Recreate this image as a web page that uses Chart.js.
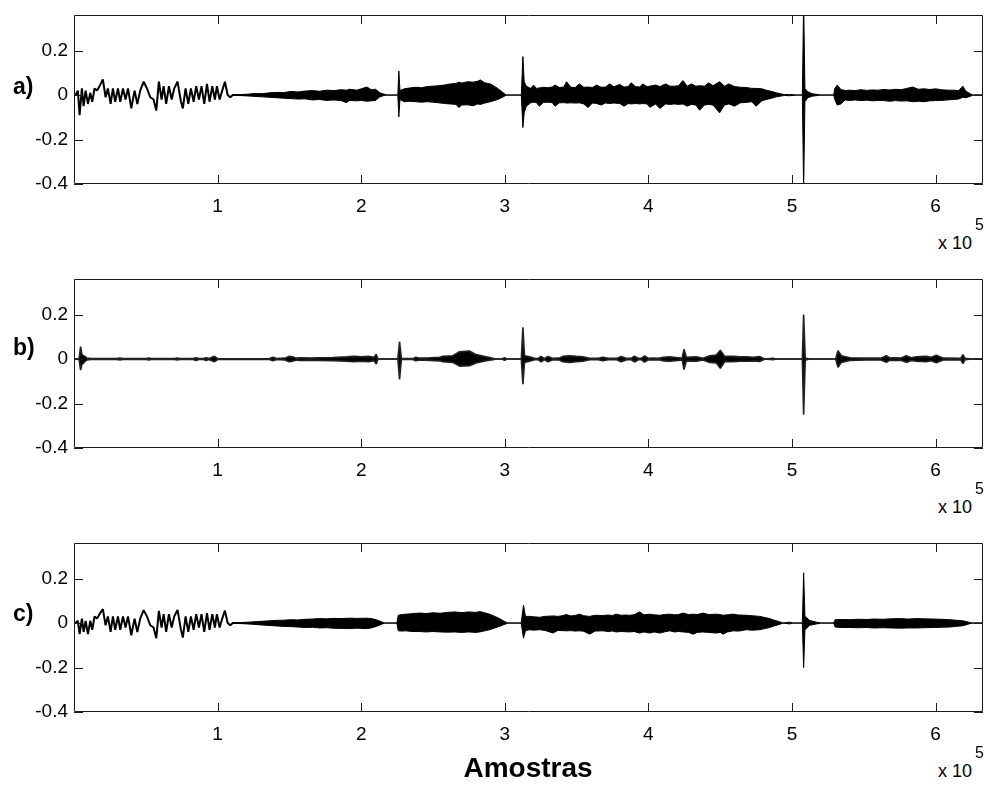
<!DOCTYPE html>
<html>
<head>
<meta charset="utf-8">
<script src="https://cdn.jsdelivr.net/npm/chart.js@4.4.1/dist/chart.umd.min.js"></script>
<style>
  body { margin: 0; background: #fff; width: 985px; height: 785px; position: relative; overflow: hidden;
         font-family: "Liberation Sans", Arial, Helvetica, sans-serif; color: #000; }
  canvas { position: absolute; left: 0; }
  .lbl { position: absolute; left: 13px; font-weight: bold; font-size: 23px; line-height: 1; }
  .exp { position: absolute; left: 938px; font-size: 18px; line-height: 1; }
  .sup { position: absolute; left: 975px; font-size: 16px; line-height: 1; }
  .xtitle { position: absolute; left: 428px; width: 200px; text-align: center; top: 754px;
            font-weight: bold; font-size: 28px; line-height: 1; }
</style>
</head>
<body>
<canvas id="pa" width="985" height="230" style="top:0px"></canvas>
<canvas id="pb" width="985" height="230" style="top:264px"></canvas>
<canvas id="pc" width="985" height="230" style="top:528px"></canvas>

<div class="lbl" style="top:75px">a)</div>
<div class="lbl" style="top:336px">b)</div>
<div class="lbl" style="top:602px">c)</div>

<div class="exp" style="top:234px">x 10</div><div class="sup" style="top:217px">5</div>
<div class="exp" style="top:498px">x 10</div><div class="sup" style="top:481px">5</div>
<div class="exp" style="top:762px">x 10</div><div class="sup" style="top:745px">5</div>

<div class="xtitle">Amostras</div>

<script>
// x in thousands of samples (axis shows x 10^5)
const xTicks = [100, 200, 300, 400, 500, 600];
const xTickLabels = ['1', '2', '3', '4', '5', '6'];
const yTicks = [-0.4, -0.2, 0, 0.2];
const yTickLabels = ['-0.4', '-0.2', '0', '0.2'];

// --- low-frequency start of a) and c) ---
const wigX = [0, 1.1, 2.7, 3.9, 5.5, 6.7, 8.1, 9.7, 11.3, 12.7,
  14.3, 16.0, 17.8, 20.1, 22.0, 23.6, 25.5, 27.1, 28.7, 30.6,
  32.2, 34.1, 35.9, 37.6, 39.9, 42.2, 44.1, 46.1, 48.5, 50.8,
  53.1, 55.4, 57.3, 59.1, 61.0, 62.4, 64.2, 66.1, 68.0, 69.8,
  72.1, 74.5, 75.8, 77.7, 79.6, 81.4, 83.3, 85.1, 87.0, 88.8,
  90.7, 92.6, 94.4, 96.3, 98.1, 99.5, 101.4, 103.2, 105.1, 107.0,
  108.8, 110.6, 121];
const aWigY = [0, 0, 0.02, -0.09, 0.03, -0.05, 0.02, -0.04, 0.01, -0.03,
  0.03, 0.02, 0.04, 0.07, -0.01, 0.03, -0.04, 0.03, -0.03, 0.03,
  -0.03, 0.03, -0.02, 0.03, -0.06, 0.02, -0.04, 0.02, 0.06, 0.03,
  -0.01, -0.02, -0.07, 0.06, -0.02, 0.04, -0.04, 0.04, -0.02, 0.03,
  0.06, -0.03, -0.06, 0.03, -0.04, 0.03, -0.03, 0.04, -0.02, 0.04,
  -0.04, 0.05, -0.03, 0.04, -0.02, 0.04, -0.02, 0.02, 0.06, 0,
  -0.01, 0, 0];
const cWigY = [0, 0, 0.01, -0.05, 0.02, -0.04, 0.01, -0.05, 0.01, -0.03,
  0.03, 0.02, 0.04, 0.063, -0.01, 0.03, -0.04, 0.03, -0.03, 0.03,
  -0.03, 0.03, -0.02, 0.03, -0.055, 0.02, -0.04, 0.02, 0.058, 0.03,
  -0.01, -0.02, -0.068, 0.055, -0.02, 0.04, -0.04, 0.04, -0.02, 0.03,
  0.059, -0.03, -0.065, 0.03, -0.04, 0.03, -0.03, 0.04, -0.02, 0.04,
  -0.04, 0.045, -0.03, 0.04, -0.02, 0.04, -0.02, 0.02, 0.056, 0,
  -0.01, 0, 0];

// --- envelopes (upper / lower) of the dense parts ---
const aEnvX = [
  110.6, 121, 126, 131, 136, 141, 146, 151, 156, 161,
  166, 171, 176, 181, 186, 189.6, 192, 197, 200, 204,
  207, 210, 213, 216, 218,
  225.5, 226.2, 227, 230, 234, 238, 242, 246, 250, 254,
  258, 262, 266, 268, 270, 274, 278, 281, 283, 286,
  290, 295, 299, 301,
  311.5, 312.6, 313.5, 315, 318, 320, 322, 324, 327, 330,
  333, 335, 338, 341, 343, 346, 349, 352, 355, 358,
  361, 364, 367, 370, 373, 376, 380, 383, 386, 388,
  391, 394, 396, 399, 401, 405, 408, 412, 415, 418,
  421, 424, 427, 430, 433, 435.7, 439, 442, 445, 449.6,
  453, 456, 460, 464, 468, 472, 475, 479, 482, 486,
  489, 492.6, 495, 498.4, 503,
  507.2, 508.1, 509, 511, 514, 518, 520, 529, 529.8, 531.5,
  534, 537, 540, 544, 548, 552, 556, 560, 564, 568,
  572, 576, 580, 584, 588, 592, 596, 600, 604, 608,
  612, 616, 619, 621, 624, 626, 633];
const aEnvUp = [
  0, 0.004, 0.007, 0.006, 0.01, 0.012, 0.011, 0.016, 0.014, 0.018,
  0.02, 0.017, 0.022, 0.02, 0.024, 0.022, 0.026, 0.022, 0.028, 0.036,
  0.024, 0.026, 0.01, 0.004, 0,
  0, 0.108, 0.02, 0.028, 0.032, 0.035, 0.033, 0.038, 0.04, 0.042,
  0.045, 0.05, 0.052, 0.058, 0.054, 0.06, 0.058, 0.062, 0.068, 0.055,
  0.05, 0.03, 0.01, 0,
  0, 0.173, 0.06, 0.04, 0.03, 0.045, 0.03, 0.032, 0.035, 0.033,
  0.036, 0.045, 0.034, 0.036, 0.06, 0.035, 0.034, 0.05, 0.035, 0.036,
  0.034, 0.045, 0.035, 0.036, 0.05, 0.037, 0.048, 0.036, 0.038, 0.055,
  0.038, 0.036, 0.05, 0.038, 0.04, 0.045, 0.038, 0.05, 0.04, 0.04,
  0.042, 0.065, 0.04, 0.05, 0.04, 0.042, 0.04, 0.055, 0.042, 0.06,
  0.04, 0.05, 0.038, 0.035, 0.034, 0.03, 0.03, 0.028, 0.022, 0.016,
  0.01, 0.005, 0.002, 0.003, 0,
  0, 0.42, 0.03, 0.015, 0.006, 0.002, 0, 0, 0.03, 0.045,
  0.025, 0.02, 0.022, 0.02, 0.024, 0.021, 0.023, 0.022, 0.025, 0.023,
  0.026, 0.024, 0.03, 0.036, 0.026, 0.028, 0.025, 0.028, 0.024, 0.022,
  0.022, 0.02, 0.04, 0.018, 0.006, 0, 0];
const aEnvLo = [
  0, -0.004, -0.006, -0.008, -0.01, -0.012, -0.014, -0.016, -0.018, -0.017,
  -0.022, -0.02, -0.024, -0.022, -0.025, -0.034, -0.024, -0.026, -0.024, -0.028,
  -0.026, -0.024, -0.008, -0.002, 0,
  0, -0.098, -0.02, -0.03, -0.028, -0.03, -0.032, -0.03, -0.032, -0.035,
  -0.038, -0.04, -0.042, -0.056, -0.045, -0.044, -0.048, -0.04, -0.042, -0.036,
  -0.03, -0.02, -0.008, 0,
  0, -0.146, -0.08, -0.05, -0.035, -0.032, -0.034, -0.05, -0.033, -0.032,
  -0.034, -0.05, -0.035, -0.034, -0.036, -0.035, -0.036, -0.035, -0.04, -0.056,
  -0.036, -0.038, -0.045, -0.036, -0.038, -0.036, -0.038, -0.05, -0.038, -0.04,
  -0.038, -0.04, -0.038, -0.04, -0.055, -0.04, -0.06, -0.04, -0.042, -0.04,
  -0.042, -0.04, -0.05, -0.042, -0.045, -0.068, -0.045, -0.042, -0.045, -0.08,
  -0.045, -0.04, -0.05, -0.035, -0.033, -0.03, -0.05, -0.026, -0.02, -0.014,
  -0.008, -0.004, -0.002, -0.003, 0,
  0, -0.42, -0.03, -0.012, -0.005, -0.002, 0, 0, -0.02, -0.045,
  -0.04, -0.022, -0.024, -0.022, -0.025, -0.023, -0.026, -0.024, -0.025, -0.028,
  -0.025, -0.027, -0.026, -0.03, -0.028, -0.03, -0.026, -0.025, -0.024, -0.022,
  -0.02, -0.018, -0.01, -0.012, -0.006, 0, 0];

const bEnvX = [0, 3.5, 4.6, 5.5, 7.5, 9, 12, 30, 32, 34,
  50, 52, 54, 70, 72, 74, 83, 85, 87, 90,
  92, 94, 96, 97.9, 100, 120, 136, 138.5, 141, 147,
  149.7, 152, 155, 157, 165, 171, 180, 190, 195, 200,
  205, 209, 210.5, 211.6, 225.5, 226.7, 228, 236, 238, 240.6,
  248, 254.6, 256.9, 263.8, 268.5, 275.4, 280, 287, 291.7, 294,
  298, 299.8, 301.5, 311.5, 312.6, 313.7, 317.2, 320.7, 323, 325.3,
  327.5, 330, 333.5, 338, 340.4, 345.1, 349.7, 354.4, 359, 365,
  368.3, 372, 378, 381, 385, 388, 390.3, 393, 395, 397.3,
  400, 403.2, 407, 410.2, 414.8, 420.6, 423.5, 424.8, 426.4, 433.4,
  438, 442.7, 447.3, 450.1, 453.1, 458.9, 463.6, 468.2, 472.9, 477.5,
  481, 486.8, 489, 507.2, 508.1, 509.2, 512, 530.4, 532, 534.4,
  540.2, 551.8, 562, 565.7, 568, 570.3, 576, 579.6, 583, 586.6,
  593.5, 597, 600.5, 605.2, 617.5, 619, 620.5, 624.9, 633];
const bEnvUp = [0, 0, 0.056, 0.02, 0.012, 0.004, 0.002, 0.002, 0.004, 0.002,
  0.002, 0.004, 0.002, 0.002, 0.004, 0.002, 0.002, 0.006, 0.002, 0.002,
  0.006, 0.002, 0.008, 0.012, 0.002, 0.001, 0.002, 0.008, 0.002, 0.004,
  0.012, 0.01, 0.004, 0.006, 0.005, 0.006, 0.007, 0.01, 0.012, 0.01,
  0.012, 0.008, 0.022, 0, 0, 0.078, 0.002, 0.002, 0.008, 0.004,
  0.006, 0.008, 0.012, 0.015, 0.033, 0.036, 0.02, 0.01, 0.003, 0,
  0, 0.006, 0, 0, 0.143, 0.015, 0.01, 0.003, 0.002, 0.012,
  0.002, 0.012, 0.003, 0.004, 0.012, 0.015, 0.012, 0.01, 0.003, 0.003,
  0.008, 0.003, 0.003, 0.012, 0.003, 0.003, 0.013, 0.003, 0.003, 0.014,
  0.003, 0.004, 0.003, 0.008, 0.01, 0.006, 0.004, 0.044, 0.008, 0.01,
  0.004, 0.015, 0.018, 0.04, 0.012, 0.012, 0.01, 0.01, 0.008, 0.011,
  0, 0.003, 0, 0, 0.2, 0.005, 0, 0, 0.037, 0.015,
  0.006, 0.004, 0.004, 0.015, 0.005, 0.006, 0.005, 0.015, 0.006, 0.01,
  0.012, 0.008, 0.017, 0.004, 0.003, 0.02, 0.003, 0, 0];
const bEnvLo = [0, 0, -0.05, -0.025, -0.012, -0.004, -0.002, -0.002, -0.004, -0.002,
  -0.002, -0.004, -0.002, -0.002, -0.004, -0.002, -0.002, -0.006, -0.002, -0.002,
  -0.006, -0.002, -0.008, -0.012, -0.002, -0.001, -0.002, -0.008, -0.002, -0.004,
  -0.012, -0.01, -0.004, -0.006, -0.005, -0.006, -0.007, -0.01, -0.012, -0.01,
  -0.012, -0.008, -0.022, 0, 0, -0.092, -0.002, -0.002, -0.008, -0.004,
  -0.006, -0.008, -0.012, -0.015, -0.032, -0.03, -0.018, -0.008, -0.003, 0,
  0, -0.006, 0, 0, -0.113, -0.015, -0.01, -0.003, -0.002, -0.012,
  -0.002, -0.012, -0.003, -0.004, -0.012, -0.015, -0.012, -0.01, -0.003, -0.003,
  -0.008, -0.003, -0.003, -0.012, -0.003, -0.003, -0.013, -0.003, -0.003, -0.014,
  -0.003, -0.004, -0.003, -0.008, -0.01, -0.006, -0.004, -0.047, -0.008, -0.01,
  -0.004, -0.015, -0.018, -0.042, -0.012, -0.012, -0.01, -0.01, -0.008, -0.011,
  0, -0.003, 0, 0, -0.25, -0.005, 0, 0, -0.037, -0.015,
  -0.006, -0.004, -0.004, -0.015, -0.005, -0.006, -0.005, -0.015, -0.006, -0.01,
  -0.012, -0.008, -0.017, -0.004, -0.003, -0.02, -0.003, 0, 0];

const cEnvX = [
  110.6, 121, 126, 131, 136, 141, 146, 151, 156, 161,
  166, 171, 176, 180.3, 186, 191.9, 197, 203.5, 207, 210.5,
  214, 216.3,
  224.8, 225.8, 228, 231.3, 235, 240.6, 245, 250, 255, 260,
  265, 270, 275, 280, 282.4, 286, 289.4, 293, 296.3, 299,
  301, 302.5,
  311.4, 313, 314.4, 317.2, 320, 324.2, 328, 333.5, 337, 340,
  342.8, 346, 349, 352, 355, 359, 363, 368.3, 372, 375,
  377.6, 381, 384, 386.9, 390, 393.8, 397, 400.8, 404, 407.9,
  411, 414.8, 418, 421, 424.1, 428, 431.1, 434, 438, 442,
  447.3, 450, 452, 455, 458.9, 463, 468.2, 472, 477.5, 481,
  484.5, 488, 491.4, 493.7, 498.4, 500.5,
  507.2, 508.1, 509, 512.3, 517, 520.4, 529, 530, 535, 540.2,
  546, 551.8, 557, 563.4, 569, 575, 581, 586.6, 592, 598.2,
  604, 609.8, 614, 619.1, 623.7, 625.6, 633];
const cEnvUp = [
  0, 0.004, 0.006, 0.008, 0.01, 0.012, 0.013, 0.015, 0.014, 0.017,
  0.018, 0.02, 0.019, 0.021, 0.02, 0.022, 0.021, 0.022, 0.02, 0.015,
  0.006, 0,
  0, 0.035, 0.038, 0.04, 0.042, 0.045, 0.043, 0.046, 0.044, 0.048,
  0.05, 0.047, 0.05, 0.048, 0.052, 0.046, 0.04, 0.03, 0.02, 0.01,
  0.003, 0,
  0, 0.08, 0.03, 0.03, 0.028, 0.026, 0.03, 0.032, 0.03, 0.033,
  0.038, 0.032, 0.034, 0.04, 0.033, 0.03, 0.035, 0.034, 0.036, 0.034,
  0.04, 0.035, 0.036, 0.035, 0.037, 0.05, 0.037, 0.04, 0.037, 0.035,
  0.038, 0.04, 0.037, 0.038, 0.045, 0.038, 0.04, 0.038, 0.045, 0.038,
  0.04, 0.038, 0.035, 0.037, 0.04, 0.036, 0.035, 0.033, 0.03, 0.025,
  0.02, 0.012, 0.006, 0, 0.004, 0,
  0, 0.226, 0.03, 0.012, 0.004, 0, 0, 0.015, 0.016, 0.015,
  0.017, 0.016, 0.018, 0.017, 0.019, 0.02, 0.018, 0.02, 0.019, 0.018,
  0.017, 0.015, 0.013, 0.01, 0.003, 0, 0];
const cEnvLo = [
  0, -0.004, -0.006, -0.009, -0.011, -0.013, -0.015, -0.016, -0.018, -0.02,
  -0.019, -0.022, -0.021, -0.023, -0.024, -0.025, -0.023, -0.025, -0.022, -0.015,
  -0.006, 0,
  0, -0.035, -0.036, -0.035, -0.038, -0.038, -0.04, -0.038, -0.04, -0.041,
  -0.04, -0.042, -0.04, -0.042, -0.04, -0.035, -0.03, -0.022, -0.015, -0.008,
  -0.003, 0,
  0, -0.068, -0.035, -0.03, -0.032, -0.03, -0.033, -0.045, -0.033, -0.034,
  -0.035, -0.034, -0.036, -0.035, -0.037, -0.05, -0.036, -0.035, -0.038, -0.036,
  -0.04, -0.038, -0.039, -0.04, -0.038, -0.045, -0.04, -0.045, -0.04, -0.045,
  -0.04, -0.035, -0.04, -0.038, -0.04, -0.042, -0.05, -0.042, -0.04, -0.042,
  -0.045, -0.042, -0.05, -0.04, -0.035, -0.036, -0.03, -0.032, -0.03, -0.025,
  -0.02, -0.012, -0.006, 0, -0.004, 0,
  0, -0.2, -0.03, -0.01, -0.004, 0, 0, -0.018, -0.02, -0.02,
  -0.021, -0.02, -0.022, -0.021, -0.022, -0.023, -0.022, -0.022, -0.021, -0.02,
  -0.019, -0.018, -0.015, -0.012, -0.003, 0, 0];

// --- helpers ---
const pts = (xs, ys) => xs.map((x, i) => ({ x, y: ys[i] }));
const tickFont = { family: '"Liberation Sans", Arial, Helvetica, sans-serif', size: 19 };

// matlab-style box with inward ticks on all four sides
const boxTicks = {
  id: 'boxTicks',
  afterDraw(chart) {
    const { ctx, chartArea: a } = chart;
    const sx = chart.scales.x, sy = chart.scales.y;
    ctx.save();
    ctx.strokeStyle = '#1a1a1a';
    ctx.lineWidth = 1;
    ctx.beginPath();
    ctx.rect(a.left + 0.5, a.top + 0.5, a.right - a.left - 1, a.bottom - a.top - 1);
    xTicks.forEach(v => {
      const px = Math.round(sx.getPixelForValue(v)) + 0.5;
      ctx.moveTo(px, a.bottom); ctx.lineTo(px, a.bottom - 9);
      ctx.moveTo(px, a.top); ctx.lineTo(px, a.top + 9);
    });
    yTicks.forEach(v => {
      const py = Math.round(sy.getPixelForValue(v)) + 0.5;
      ctx.moveTo(a.left, py); ctx.lineTo(a.left + 9, py);
      ctx.moveTo(a.right, py); ctx.lineTo(a.right - 9, py);
    });
    ctx.stroke();
    ctx.restore();
  }
};

function makePanel(id, envX, envUp, envLo, wigY, lineW, lineCol) {
  const datasets = [
    { data: pts(envX, envUp), borderColor: lineCol, borderWidth: lineW, fill: false },
    { data: pts(envX, envLo), borderColor: lineCol, borderWidth: lineW, fill: '-1', backgroundColor: '#000' }
  ];
  if (wigY) {
    datasets.push({ data: pts(wigX, wigY), borderColor: '#000', borderWidth: 2, fill: false });
  }
  datasets.forEach(d => { d.showLine = true; d.pointRadius = 0; });

  return new Chart(document.getElementById(id), {
    type: 'scatter',
    data: { datasets },
    options: {
      responsive: false,
      animation: false,
      layout: { padding: { top: 15, right: 2, left: 0, bottom: 0 } },
      elements: { line: { tension: 0, borderJoinStyle: 'bevel' }, point: { radius: 0 } },
      plugins: { legend: { display: false }, tooltip: { enabled: false } },
      scales: {
        x: {
          type: 'linear', min: 0, max: 633,
          afterBuildTicks: s => { s.ticks = xTicks.map(v => ({ value: v })); },
          afterFit: s => { s.height = 46; s.paddingLeft = 0; s.paddingRight = 0; },
          ticks: { callback: v => xTickLabels[xTicks.indexOf(v)], font: tickFont, color: '#000',
                   padding: 11, maxRotation: 0, autoSkip: false },
          grid: { display: false, drawTicks: false },
          border: { display: false }
        },
        y: {
          type: 'linear', min: -0.4, max: 0.36,
          afterBuildTicks: s => { s.ticks = yTicks.map(v => ({ value: v })); },
          afterFit: s => { s.width = 74; s.paddingTop = 0; s.paddingBottom = 0; },
          ticks: { callback: v => yTickLabels[yTicks.indexOf(v)], font: tickFont, color: '#000',
                   padding: 6, autoSkip: false },
          grid: { display: false, drawTicks: false },
          border: { display: false }
        }
      }
    },
    plugins: [boxTicks]
  });
}

makePanel('pa', aEnvX, aEnvUp, aEnvLo, aWigY, 1, '#000');
makePanel('pb', bEnvX, bEnvUp, bEnvLo, null, 1.6, '#222');
makePanel('pc', cEnvX, cEnvUp, cEnvLo, cWigY, 1, '#000');
</script>
</body>
</html>
